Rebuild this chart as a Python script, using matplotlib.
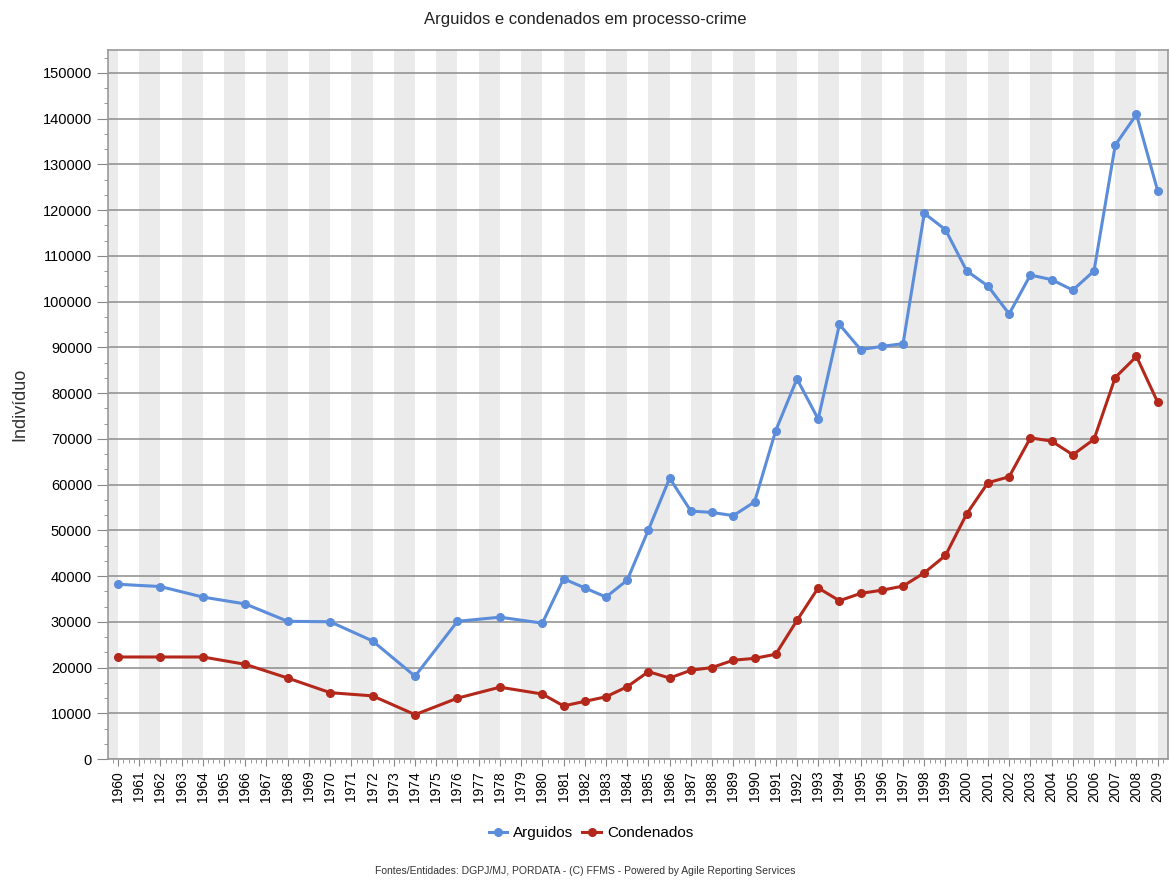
import matplotlib
matplotlib.use('Agg')
import matplotlib.pyplot as plt
from matplotlib.ticker import MultipleLocator
import numpy as np

plt.rcParams['font.family'] = ['Liberation Sans', 'DejaVu Sans']

# categories on the x axis
years = list(range(1960, 2010))

# years that have data
data_years = [1960, 1962, 1964, 1966, 1968, 1970, 1972, 1974, 1976, 1978, 1980,
              1981, 1982, 1983, 1984, 1985, 1986, 1987, 1988, 1989, 1990,
              1991, 1992, 1993, 1994, 1995, 1996, 1997, 1998, 1999, 2000,
              2001, 2002, 2003, 2004, 2005, 2006, 2007, 2008, 2009]

arguidos = [38200, 37700, 35400, 33900, 30100, 30000, 25800, 18100, 30100, 31000, 29700,
            39400, 37400, 35400, 39100, 50100, 61400, 54200, 53900, 53200, 56200,
            71800, 83100, 74300, 95000, 89500, 90200, 90800, 119300, 115700, 106700,
            103400, 97300, 105800, 104800, 102500, 106700, 134200, 140900, 124200]

condenados = [22300, 22300, 22300, 20700, 17700, 14500, 13800, 9700, 13300, 15700, 14200,
              11600, 12600, 13600, 15800, 19100, 17700, 19400, 20000, 21600, 22000,
              22900, 30300, 37400, 34600, 36200, 36900, 37800, 40700, 44500, 53600,
              60400, 61700, 70200, 69500, 66500, 69900, 83400, 88000, 78000]

fig = plt.figure(figsize=(11.7, 8.8), dpi=100)
ax = fig.add_axes([0.0923, 0.1375, 0.9057, 0.8057])

x = [years.index(y) for y in data_years]

# alternating shaded strips between odd and even years
for i in range(-1, len(years), 2):
    ax.axvspan(i, i + 1, color='#ebebeb', lw=0, zorder=0)

ax.plot(x, arguidos, color='#5b8ddb', lw=2.2, marker='o', ms=5.5, label='Arguidos', zorder=3)
ax.plot(x, condenados, color='#b3281a', lw=2.2, marker='o', ms=5.5, label='Condenados', zorder=3)

ax.set_xlim(-0.47, len(years) - 1 + 0.47)
ax.set_ylim(0, 155000)
ax.set_xticks(range(len(years)))
ax.set_xticklabels([str(y) for y in years], rotation=90, fontsize=10)
ax.xaxis.set_minor_locator(MultipleLocator(0.25))
ax.yaxis.set_major_locator(MultipleLocator(10000))
ax.yaxis.set_minor_locator(MultipleLocator(10000 / 3))
ax.tick_params(axis='y', labelsize=10.5, length=8, color='#888888')
ax.tick_params(axis='x', length=5, color='#888888')
ax.tick_params(which='minor', length=3, color='#888888')
ax.grid(axis='y', which='major', color='#8c8c8c', lw=1.1, zorder=1)
ax.set_axisbelow(True)
for s in ax.spines.values():
    s.set_color('#999999')
    s.set_linewidth(1.2)

ax.set_ylabel('Indivíduo', fontsize=13, color='#333333', labelpad=10)
fig.text(0.5, 0.978, 'Arguidos e condenados em processo-crime', ha='center', va='center',
         fontsize=12, color='#222222')

fig.legend(loc='center', bbox_to_anchor=(0.505, 0.053), ncol=2, frameon=False,
           fontsize=11, handlelength=1.2, handletextpad=0.4, columnspacing=0.6)
fig.text(0.5, 0.01, 'Fontes/Entidades: DGPJ/MJ, PORDATA - (C) FFMS - Powered by Agile Reporting Services',
         ha='center', va='center', fontsize=7.5, color='#333333')

fig.savefig('out.png', dpi=100)
